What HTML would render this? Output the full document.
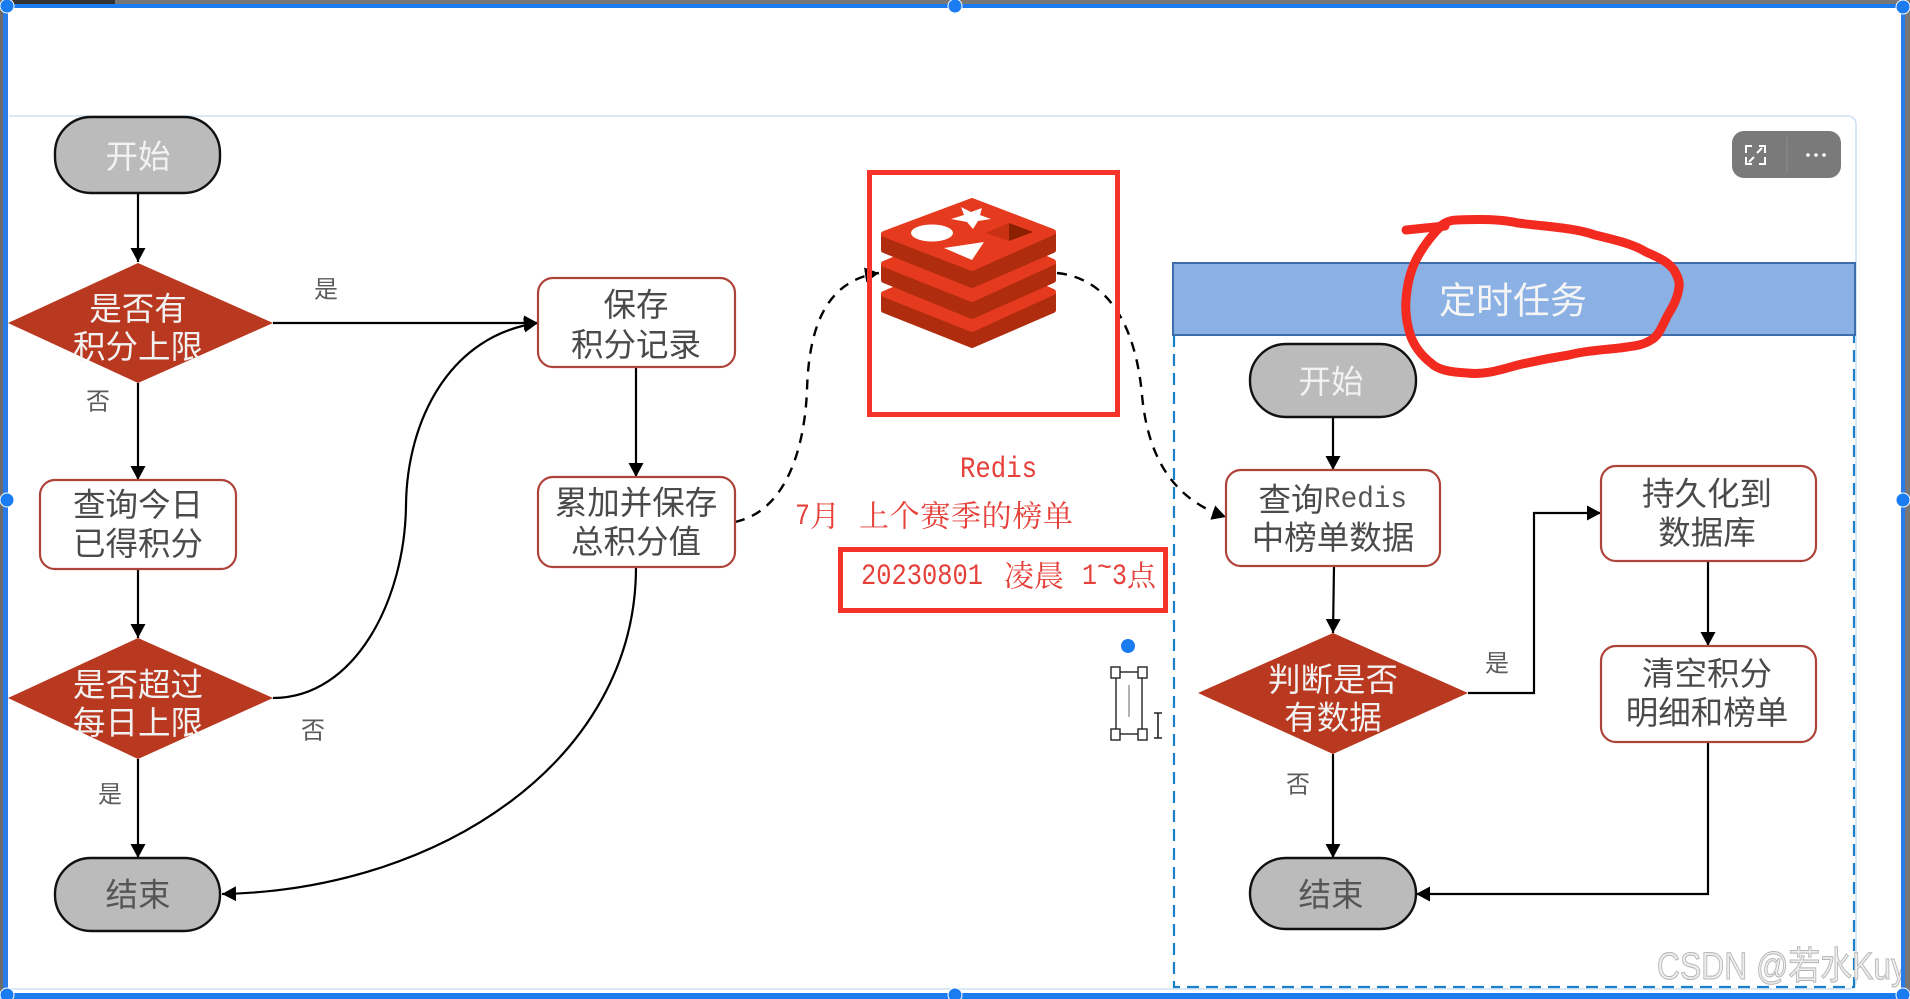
<!DOCTYPE html>
<html lang="zh">
<head>
<meta charset="utf-8">
<title>定时任务流程图</title>
<style>
html,body{margin:0;padding:0;background:#fff;width:1910px;height:999px;overflow:hidden}
svg{display:block}
text{font-family:"Liberation Sans","Noto Sans CJK SC",sans-serif;text-anchor:middle;dominant-baseline:central}
.w{fill:#f2f2f2;font-size:32.5px}
.d{fill:#4a4a4a;font-size:32.5px}
.l{fill:#5c5c5c;font-size:24px}
.r{fill:#e5403a;font-size:30px;font-family:"Liberation Serif","Noto Serif CJK SC",serif;text-anchor:start}
.m{fill:#e5403a;font-size:30px;font-family:"Liberation Mono",monospace;text-anchor:start}
.c{stroke:#000;stroke-width:2.2;fill:none}
.dash{stroke:#000;stroke-width:2.4;fill:none;stroke-dasharray:10 8}
.pill{fill:#bbb;stroke:#111;stroke-width:2.4}
.box{fill:#fff;stroke:#ae433a;stroke-width:2.2}
.dia{fill:#b93820}
</style>
</head>
<body>
<svg width="1910" height="999" viewBox="0 0 1910 999" xmlns="http://www.w3.org/2000/svg">
<defs>
<marker id="a" markerUnits="userSpaceOnUse" markerWidth="16" markerHeight="16" refX="14" refY="7.5" orient="auto"><path d="M0 0L14 7.5L0 15Z" fill="#000"/></marker>
</defs>
<rect width="1910" height="999" fill="#fff"/>

<!-- panel -->
<path d="M9 116H1848a8 8 0 0 1 8 8V981a8 8 0 0 1-8 8H9" fill="none" stroke="#cfe0f3" stroke-width="1.6"/>

<!-- toolbar -->
<rect x="1732" y="131" width="109" height="47" rx="12" fill="#7a7a7a"/>
<line x1="1787" y1="137" x2="1787" y2="171" stroke="#8d8d8d" stroke-width="1"/>
<path d="M1752 146h-6v7M1759 164h6v-7M1746 157v7h6M1765 153v-7h-6M1762 148l-5 5M1749 162l5-5" fill="none" stroke="#fff" stroke-width="2"/>
<circle cx="1808" cy="155" r="1.8" fill="#fff"/><circle cx="1816" cy="155" r="1.8" fill="#fff"/><circle cx="1824" cy="155" r="1.8" fill="#fff"/>

<!-- right dashed container -->
<path d="M1174 335V987H1854V335" fill="none" stroke="#1b7fc9" stroke-width="2.2" stroke-dasharray="12 7"/>
<rect x="1173" y="263" width="682" height="72" fill="#8ab0e4" stroke="#3f6dab" stroke-width="2"/>
<text x="1513" y="301" style="font-size:37px" fill="#f5f5f5">定时任务</text>

<!-- connectors left -->
<line class="c" x1="138" y1="193" x2="138" y2="262" marker-end="url(#a)"/>
<line class="c" x1="273" y1="323" x2="538" y2="323" marker-end="url(#a)"/>
<line class="c" x1="138" y1="383" x2="138" y2="480" marker-end="url(#a)"/>
<line class="c" x1="138" y1="569" x2="138" y2="638" marker-end="url(#a)"/>
<line class="c" x1="138" y1="759" x2="138" y2="858" marker-end="url(#a)"/>
<line class="c" x1="636" y1="367" x2="636" y2="477" marker-end="url(#a)"/>
<path class="c" d="M273 698C355 698 405 600 406 505C407 420 450 335 538 323" marker-end="url(#a)"/>
<path class="c" d="M636 567C636 760 440 890 222 894" marker-end="url(#a)"/>

<!-- dashed to/from redis -->
<path class="dash" d="M735 522C790 510 805 440 807 390C809 320 830 280 879 273" marker-end="url(#a)"/>
<path class="dash" d="M1057 273C1105 278 1135 320 1142 395C1148 460 1175 500 1226 517" marker-end="url(#a)"/>

<!-- left nodes -->
<rect class="pill" x="55" y="117" width="165" height="76" rx="36" ry="36"/>
<text class="w" x="138" y="157">开始</text>

<polygon class="dia" points="138,263 273,323 138,383 8,323"/>
<text class="w" x="138" y="309">是否有</text>
<text class="w" x="138" y="347">积分上限</text>

<rect class="box" x="40" y="480" width="196" height="89" rx="15"/>
<text class="d" x="138" y="505">查询今日</text>
<text class="d" x="138" y="544">已得积分</text>

<polygon class="dia" points="138,638 273,698 138,759 8,698"/>
<text class="w" x="138" y="685">是否超过</text>
<text class="w" x="138" y="723">每日上限</text>

<rect class="pill" x="55" y="858" width="165" height="73" rx="36" ry="36"/>
<text class="d" x="138" y="895" style="fill:#555">结束</text>

<rect class="box" x="538" y="278" width="197" height="89" rx="15"/>
<text class="d" x="636" y="305">保存</text>
<text class="d" x="636" y="345">积分记录</text>

<rect class="box" x="538" y="477" width="197" height="90" rx="15"/>
<text class="d" x="636" y="503">累加并保存</text>
<text class="d" x="636" y="542">总积分值</text>

<text class="l" x="326" y="290">是</text>
<text class="l" x="98" y="402">否</text>
<text class="l" x="313" y="731">否</text>
<text class="l" x="110" y="795">是</text>

<!-- redis logo -->
<g stroke-linejoin="round">
<g stroke-width="6">
<path d="M884 294L972 332L1053 294V310L972 345L884 310Z" fill="#b02c0f" stroke="#b02c0f"/>
<path d="M884 294L972 256L1053 292L972 329Z" fill="#e63a1e" stroke="#e63a1e"/>
<path d="M884 264L972 302L1053 264V280L972 316L884 280Z" fill="#b02c0f" stroke="#b02c0f"/>
<path d="M884 264L972 226L1053 262L972 299Z" fill="#e63a1e" stroke="#e63a1e"/>
<path d="M884 235L972 272L1053 233V250L972 285L884 250Z" fill="#b02c0f" stroke="#b02c0f"/>
<path d="M884 234L972 201L1053 232L972 268Z" fill="#e63a1e" stroke="#e63a1e"/>
</g>
<ellipse cx="932" cy="233" rx="21" ry="8.5" fill="#fff"/>
<polygon points="961,207 971,212 982,208 980,215 991,219 978,221 973,229 967,222 951,219 964,215" fill="#fff"/>
<polygon points="944,248 984,242 972,260" fill="#fff"/>
<polygon points="985,233 1009,223 1009,241" fill="#c93115"/>
<polygon points="1009,223 1033,232 1009,241" fill="#8a2000"/>
</g>
<rect x="869.5" y="172.5" width="248" height="242" fill="none" stroke="#f5332b" stroke-width="5"/>

<text class="m" x="960" y="470" textLength="77" lengthAdjust="spacingAndGlyphs">Redis</text>
<text class="m" x="795" y="517" textLength="15" lengthAdjust="spacingAndGlyphs">7</text>
<text class="r" x="810" y="517">月</text>
<text class="r" x="859" y="517" textLength="214" lengthAdjust="spacing">上个赛季的榜单</text>
<rect x="840.5" y="549.5" width="325" height="61" fill="none" stroke="#f5332b" stroke-width="5"/>
<text class="m" x="861" y="577" textLength="122" lengthAdjust="spacingAndGlyphs">20230801</text>
<text class="r" x="1004" y="577" textLength="60" lengthAdjust="spacing">凌晨</text>
<text class="m" x="1082" y="577" textLength="15" lengthAdjust="spacingAndGlyphs">1</text>
<text class="m" x="1097" y="569" textLength="15" lengthAdjust="spacingAndGlyphs">~</text>
<text class="m" x="1112" y="577" textLength="15" lengthAdjust="spacingAndGlyphs">3</text>
<text class="r" x="1127" y="577" style="font-size:29px">点</text>

<!-- selected element -->
<circle cx="1128" cy="646" r="7" fill="#1a7cf0"/>
<rect x="1116" y="672" width="26" height="62" fill="none" stroke="#222" stroke-width="1.4"/>
<line x1="1129" y1="685" x2="1129" y2="717" stroke="#666" stroke-width="1"/>
<g fill="#fff" stroke="#222" stroke-width="1.4">
<rect x="1111" y="667" width="9" height="11"/><rect x="1138" y="667" width="9" height="11"/>
<rect x="1111" y="729" width="9" height="11"/><rect x="1138" y="729" width="9" height="11"/>
</g>
<path d="M1154 713h8M1158 713v25M1154 738h8" fill="none" stroke="#222" stroke-width="1.6"/>

<!-- right connectors -->
<line class="c" x1="1333" y1="417" x2="1333" y2="470" marker-end="url(#a)"/>
<line class="c" x1="1334" y1="566" x2="1333" y2="633" marker-end="url(#a)"/>
<line class="c" x1="1333" y1="754" x2="1333" y2="858" marker-end="url(#a)"/>
<path class="c" d="M1468 693H1534V513H1601" marker-end="url(#a)"/>
<line class="c" x1="1708" y1="561" x2="1708" y2="646" marker-end="url(#a)"/>
<path class="c" d="M1708 742V894H1416" marker-end="url(#a)"/>

<!-- right nodes -->
<rect class="pill" x="1250" y="344" width="166" height="73" rx="36" ry="36"/>
<text class="w" x="1331" y="382">开始</text>

<rect class="box" x="1226" y="470" width="214" height="96" rx="15"/>
<text class="d" x="1291" y="500">查询</text>
<text class="m" x="1324" y="500" textLength="83" lengthAdjust="spacingAndGlyphs" style="fill:#555">Redis</text>
<text class="d" x="1333" y="538">中榜单数据</text>

<polygon class="dia" points="1333,633 1468,693 1333,754 1198,693"/>
<text class="w" x="1333" y="680">判断是否</text>
<text class="w" x="1333" y="718">有数据</text>

<rect class="pill" x="1250" y="858" width="166" height="71" rx="36" ry="36"/>
<text class="d" x="1331" y="895" style="fill:#555">结束</text>

<rect class="box" x="1601" y="466" width="215" height="95" rx="15"/>
<text class="d" x="1707" y="494">持久化到</text>
<text class="d" x="1707" y="533">数据库</text>

<rect class="box" x="1601" y="646" width="215" height="96" rx="15"/>
<text class="d" x="1707" y="674">清空积分</text>
<text class="d" x="1707" y="713">明细和榜单</text>

<text class="l" x="1497" y="664">是</text>
<text class="l" x="1298" y="785">否</text>

<!-- red freehand circle -->
<path d="M1406 230L1445 226" fill="none" stroke="#f22a20" stroke-width="9" stroke-linecap="round"/>
<path d="M1457 220C1480 219 1500 219 1518 223C1550 227 1575 228 1595 235C1620 241 1635 245 1646 252C1660 258 1668 262 1674 270C1678 277 1680 282 1679 287C1678 297 1674 305 1669 313C1662 325 1660 335 1651 340C1642 346 1632 346 1620 348C1600 350 1585 351 1569 355C1550 358 1535 361 1518 365C1500 370 1485 375 1467 373C1450 372 1438 370 1431 363C1422 356 1415 347 1411 337C1407 325 1405 312 1406 300C1407 285 1410 272 1416 260C1422 248 1432 235 1442 225C1446 222 1450 220 1457 220Z" fill="none" stroke="#f22a20" stroke-width="9" stroke-linecap="round" stroke-linejoin="round"/>

<!-- watermark -->
<text x="1657" y="967" textLength="250" lengthAdjust="spacingAndGlyphs" style="text-anchor:start;font-size:38px;fill:#eeeeee;stroke:#b5b5b5;stroke-width:1">CSDN @若水Kuy</text>

<!-- selection frame -->
<rect x="0" y="0" width="1910" height="4" fill="#777"/>
<rect x="0" y="0" width="115" height="4" fill="#333"/>
<rect x="0" y="4" width="1902" height="4" fill="#1a7cf0"/>
<rect x="0" y="0" width="3" height="999" fill="#6b6b6b"/>
<rect x="3" y="4" width="5" height="995" fill="#2a7ae8"/>
<rect x="1905" y="0" width="5" height="999" fill="#777"/>
<rect x="1901" y="4" width="4" height="995" fill="#2a7ae8"/>
<rect x="0" y="993" width="1910" height="6" fill="#1a7cf0"/>
<g fill="#1a7cf0" stroke="#fff" stroke-width="1">
<circle cx="7" cy="6" r="7"/><circle cx="955" cy="6" r="7"/><circle cx="1903" cy="7" r="7"/>
<circle cx="7" cy="500" r="7"/><circle cx="1903" cy="500" r="7"/>
<circle cx="7" cy="995" r="7"/><circle cx="955" cy="995" r="7"/><circle cx="1903" cy="995" r="7"/>
</g>
</svg>
</body>
</html>
